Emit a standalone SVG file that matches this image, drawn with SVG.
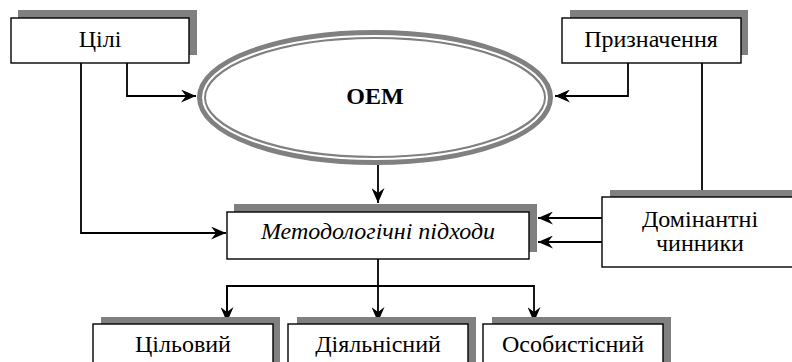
<svg xmlns="http://www.w3.org/2000/svg" width="792" height="362" viewBox="0 0 792 362">
<style>
.sh{fill:#808080}
.bx{fill:#fff;stroke:#000;stroke-width:1.4}
.t{font-family:'Liberation Serif','Times New Roman',serif;font-size:24px;fill:#000;text-anchor:middle}
.c{fill:none;stroke:#000;stroke-width:1.8}
</style>
<defs>
<marker id="ah" viewBox="0 0 15 13" refX="15" refY="6.5" markerWidth="15" markerHeight="13" markerUnits="userSpaceOnUse" orient="auto">
<path d="M0,0 L15,6.5 L0,13 L5,6.5 Z" fill="#000"/>
</marker>
</defs>
<rect width="792" height="362" fill="#fff"/>
<g id="connectors">
<polyline class="c" points="127,63 127,96 196,96" marker-end="url(#ah)"/>
<polyline class="c" points="81,63 81,233 226,233" marker-end="url(#ah)"/>
<polyline class="c" points="628,63 628,96 555,96" marker-end="url(#ah)"/>
<polyline class="c" points="702,63 702,190"/>
<polyline class="c" points="378,165 378,203" marker-end="url(#ah)"/>
<polyline class="c" points="602,218 538,218" marker-end="url(#ah)"/>
<polyline class="c" points="602,242 538,242" marker-end="url(#ah)"/>
<polyline class="c" points="378,259 378,322" marker-end="url(#ah)"/>
<polyline class="c" points="227,322 227,286 534,286 534,322" marker-end="url(#ah)"/>
<polyline class="c" points="227,286 227,322" marker-end="url(#ah)"/>
</g>
<g id="tsili">
<rect class="sh" x="18" y="10" width="179" height="45"/>
<rect class="bx" x="11" y="18" width="178" height="45"/>
<text class="t" x="100" y="47">Цілі</text>
</g>
<g id="pryznachennia">
<rect class="sh" x="570" y="10" width="178" height="45"/>
<rect class="bx" x="562" y="18" width="179" height="45"/>
<text class="t" x="651" y="47">Призначення</text>
</g>
<g id="oem">
<ellipse cx="375" cy="97.5" rx="173.5" ry="63" fill="#fff" stroke="#808080" stroke-width="9"/>
<ellipse cx="375" cy="97.5" rx="172" ry="61.5" fill="none" stroke="#fff" stroke-width="2"/>
<text class="t" x="375" y="104" font-weight="bold" font-size="26">OEM</text>
</g>
<g id="metodolohichni">
<rect class="sh" x="234" y="204" width="303" height="48"/>
<rect class="bx" x="227" y="212" width="302" height="47"/>
<text class="t" x="378" y="239" font-style="italic" font-size="25">Методологічні підходи</text>
</g>
<g id="dominantni">
<rect class="sh" x="610" y="190" width="190" height="40"/>
<rect class="bx" x="602" y="197" width="195" height="70"/>
<text class="t" x="700" y="227">Домінантні</text>
<text class="t" x="700" y="251">чинники</text>
</g>
<g id="tsilovyi">
<rect class="sh" x="101" y="317" width="179" height="50"/>
<rect class="bx" x="93" y="324" width="180" height="45"/>
<text class="t" x="183" y="352">Цільовий</text>
</g>
<g id="diialnisnyi">
<rect class="sh" x="297" y="317" width="179" height="50"/>
<rect class="bx" x="288" y="324" width="180" height="45"/>
<text class="t" x="378" y="352">Діяльнісний</text>
</g>
<g id="osobystisnyi">
<rect class="sh" x="492" y="317" width="179" height="50"/>
<rect class="bx" x="483" y="324" width="180" height="45"/>
<text class="t" x="573" y="352">Особистісний</text>
</g>
</svg>
